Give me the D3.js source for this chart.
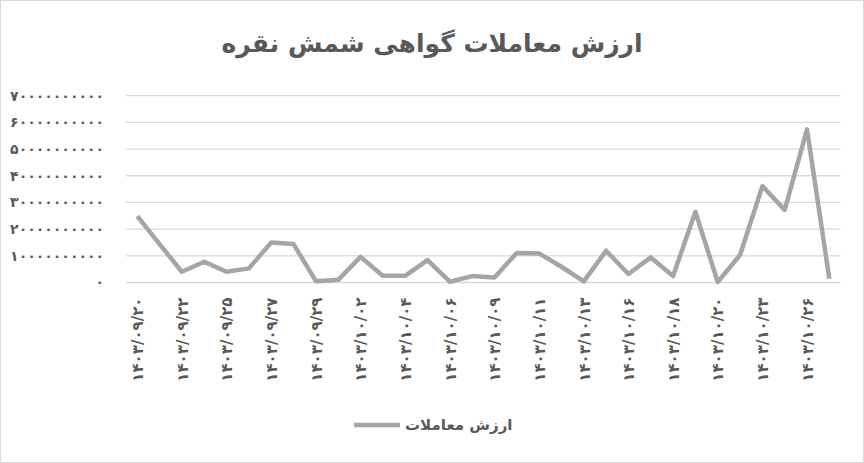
<!DOCTYPE html>
<html>
<head>
<meta charset="utf-8">
<script src="https://cdn.jsdelivr.net/npm/d3@7"></script>
<style>
  body { margin: 0; background: #fff; }
  svg text { font-family: "DejaVu Sans", sans-serif; }
</style>
</head>
<body>
<div id="chart"></div>
<script>
// trading days (only every other one gets a label)
var dates = [
    "1403/09/20", "1403/09/21", "1403/09/22", "1403/09/24", "1403/09/25", "1403/09/26",
    "1403/09/27", "1403/09/28", "1403/09/29", "1403/10/01", "1403/10/02", "1403/10/03",
    "1403/10/04", "1403/10/05", "1403/10/06", "1403/10/08", "1403/10/09", "1403/10/10",
    "1403/10/11", "1403/10/12", "1403/10/13", "1403/10/15", "1403/10/16", "1403/10/17",
    "1403/10/18", "1403/10/19", "1403/10/20", "1403/10/22", "1403/10/23", "1403/10/24",
    "1403/10/26", "1403/10/27"
];

// ارزش معاملات (ریال)
var tradeValues = [
    24.9e9, 14.4e9, 4.0e9, 7.8e9, 4.0e9, 5.3e9,
    15.0e9, 14.4e9, 0.5e9, 1.0e9, 9.6e9, 2.5e9,
    2.5e9, 8.4e9, 0.3e9, 2.4e9, 1.9e9, 11.1e9,
    10.9e9, 5.9e9, 0.4e9, 11.9e9, 3.2e9, 9.4e9,
    2.4e9, 26.5e9, 0.2e9, 10.3e9, 36.1e9, 27.2e9,
    57.4e9, 1.4e9
];

var yTicks = [0, 10e9, 20e9, 30e9, 40e9, 50e9, 60e9, 70e9];

var chartTitle = "ارزش معاملات گواهی شمش نقره";
var seriesName = "ارزش معاملات";

var width = 864, height = 463;
var margin = {top: 95.7, right: 23.5, bottom: 180.5, left: 126.1};

var faDigits = "۰۱۲۳۴۵۶۷۸۹";
function toFa(s) {
    return String(s).replace(/[0-9]/g, d => faDigits[+d]);
}

var data = dates.map((d, i) => ({date: d, value: tradeValues[i]}));

var svg = d3.select("#chart").append("svg")
    .attr("width", width)
    .attr("height", height);

// chart frame
svg.append("rect")
    .attr("x", 0.5).attr("y", 0.5)
    .attr("width", width - 1).attr("height", height - 1)
    .attr("fill", "#fff")
    .attr("stroke", "#d9d9d9");

var xScale = d3.scalePoint()
    .domain(dates)
    .range([margin.left, width - margin.right])
    .padding(0.5);

var yScale = d3.scaleLinear()
    .domain([0, 70e9])
    .range([height - margin.bottom, margin.top]);

// gridlines
svg.append("g")
    .selectAll("line")
    .data(yTicks)
    .enter().append("line")
    .attr("x1", margin.left)
    .attr("x2", width - margin.right)
    .attr("y1", d => yScale(d))
    .attr("y2", d => yScale(d))
    .attr("stroke", "#d9d9d9")
    .attr("stroke-width", 1.3);

// y axis labels
var yAxis = svg.append("g")
    .attr("transform", "translate(" + (margin.left - 22) + ",0)")
    .call(d3.axisLeft(yScale).tickValues(yTicks).tickSize(0).tickFormat(d => toFa(d)));
yAxis.select(".domain").remove();
yAxis.selectAll("text")
    .attr("x", 0)
    .attr("fill", "#595959")
    .style("font-size", "14px")
    .style("font-weight", "bold");

// x axis labels (every other date)
var xAxis = svg.append("g")
    .attr("transform", "translate(0," + (height - margin.bottom) + ")")
    .call(d3.axisBottom(xScale)
        .tickValues(dates.filter((d, i) => i % 2 === 0))
        .tickSize(0)
        .tickFormat(d => toFa(d)));
xAxis.select(".domain").remove();
xAxis.selectAll("text")
    .attr("transform", "rotate(-90)")
    .attr("x", -15)
    .attr("y", 0)
    .attr("dy", "0.35em")
    .style("text-anchor", "end")
    .attr("fill", "#595959")
    .style("font-size", "15px")
    .style("font-weight", "bold");

// series line
var line = d3.line()
    .x(d => xScale(d.date))
    .y(d => yScale(d.value));

svg.append("path")
    .datum(data)
    .attr("d", line)
    .attr("fill", "none")
    .attr("stroke", "#a5a5a5")
    .attr("stroke-width", 4.5)
    .attr("stroke-linejoin", "round");

// title
svg.append("text")
    .attr("x", width / 2)
    .attr("y", 52)
    .attr("text-anchor", "middle")
    .attr("direction", "rtl")
    .style("font-size", "25px")
    .style("font-weight", "bold")
    .attr("fill", "#595959")
    .text(chartTitle);

// legend
var legend = svg.append("g");
legend.append("line")
    .attr("x1", 354).attr("x2", 400)
    .attr("y1", 425).attr("y2", 425)
    .attr("stroke", "#a5a5a5")
    .attr("stroke-width", 4.5);
legend.append("text")
    .attr("x", 405)
    .attr("y", 430)
    .attr("text-anchor", "start")
    .style("font-size", "15px")
    .style("font-weight", "bold")
    .attr("fill", "#595959")
    .text(seriesName);
</script>
</body>
</html>
